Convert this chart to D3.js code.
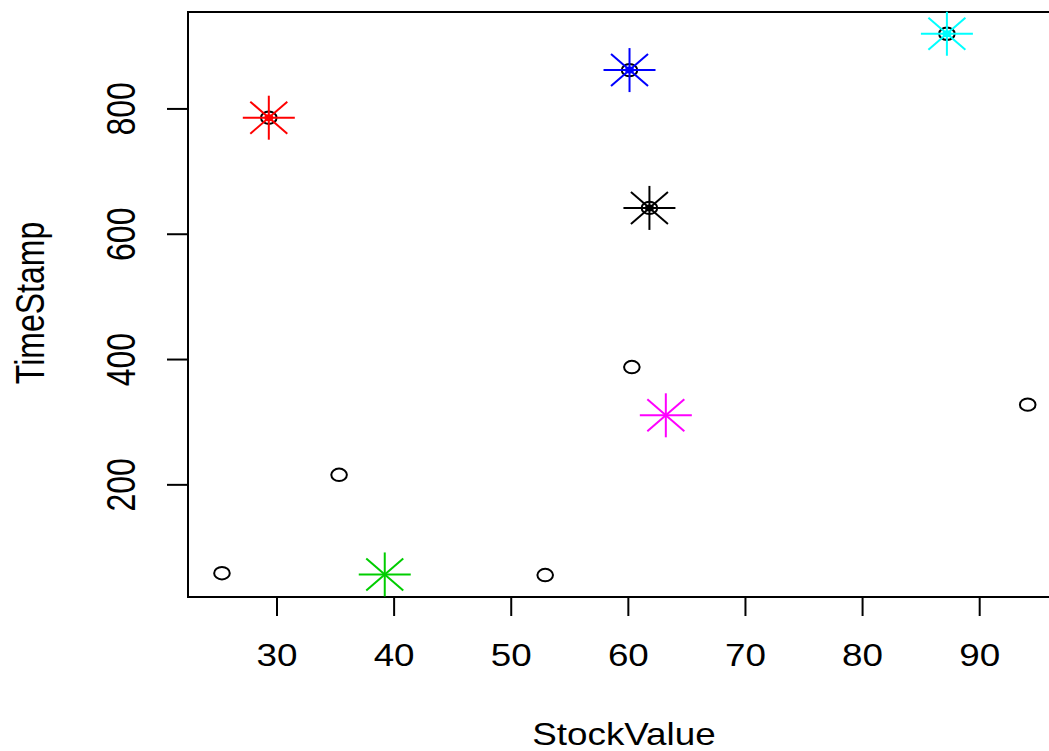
<!DOCTYPE html>
<html>
<head>
<meta charset="utf-8">
<script src="https://cdn.jsdelivr.net/npm/d3@7"></script>
<style>
  body { margin: 0; background: #fff; }
  text { font-family: "Liberation Sans", Arial, sans-serif; fill: #000; }
</style>
</head>
<body>
<svg id="chart" width="1049" height="751"></svg>
<script>
// points (open circles)
var stockValue = [25.3, 35.3, 52.9, 60.3, 94.1, 29.3, 60.1, 61.8, 87.2];
var timeStamp  = [59, 216, 56, 388, 328, 786, 862, 642, 920];

// highlighted points (stars)
var starValue = [29.3, 60.1, 61.8, 87.2, 39.2, 63.2];
var starTime  = [786, 862, 642, 920, 57, 311];
var starColor = ["#ff0000", "#0000ff", "#000000", "#00ffff", "#00cd00", "#ff00ff"];
var starOnPoint = [true, true, true, true, false, false];

var xTicks = [30, 40, 50, 60, 70, 80, 90];
var yTicks = [200, 400, 600, 800];

var svg = d3.select("#chart");
var sx = 1.15;  // horizontal text is stretched sideways a little
var sxr = 1.28; // rotated text more so

var x = d3.scaleLinear().domain([22.4, 100.7]).range([188, 1105]);
var y = d3.scaleLinear().domain([21, 954.7]).range([597, 12]);

// box
svg.append("rect")
  .attr("x", 188).attr("y", 12)
  .attr("width", 1105 - 188).attr("height", 597 - 12)
  .attr("fill", "none").attr("stroke", "#000").attr("stroke-width", 2);

// x axis
var xAxis = svg.append("g").attr("transform", "translate(0,597)");
xAxis.selectAll("line").data(xTicks).enter().append("line")
  .attr("x1", function(d) { return x(d); }).attr("x2", function(d) { return x(d); })
  .attr("y1", 0).attr("y2", 19)
  .attr("stroke", "#000").attr("stroke-width", 2);
xAxis.selectAll("text").data(xTicks).enter().append("text")
  .attr("transform", function(d) { return "translate(" + x(d) + ",69) scale(" + sx + ",1)"; })
  .attr("text-anchor", "middle")
  .style("font-size", "32px")
  .text(function(d) { return d; });

// y axis
var yAxis = svg.append("g").attr("transform", "translate(188,0)");
yAxis.selectAll("line").data(yTicks).enter().append("line")
  .attr("x1", 0).attr("x2", -21)
  .attr("y1", function(d) { return y(d); }).attr("y2", function(d) { return y(d); })
  .attr("stroke", "#000").attr("stroke-width", 2);
yAxis.selectAll("text").data(yTicks).enter().append("text")
  .attr("transform", function(d) { return "translate(-53," + y(d) + ") scale(" + sxr + ",1) rotate(-90)"; })
  .attr("text-anchor", "middle")
  .style("font-size", "32px")
  .text(function(d) { return d; });

// axis titles
svg.append("text")
  .attr("transform", "translate(624,745) scale(" + sx + ",1)")
  .attr("text-anchor", "middle")
  .style("font-size", "32px")
  .text("StockValue");
svg.append("text")
  .attr("transform", "translate(44,303) scale(" + sxr + ",1) rotate(-90)")
  .attr("text-anchor", "middle")
  .style("font-size", "32px")
  .text("TimeStamp");

var marks = svg.append("g");

// open circles
marks.selectAll("ellipse.pt").data(stockValue).enter().append("ellipse")
  .attr("class", "pt")
  .attr("cx", function(d) { return x(d); })
  .attr("cy", function(d, i) { return y(timeStamp[i]); })
  .attr("rx", 7.8).attr("ry", 6.2)
  .attr("fill", "none").attr("stroke", "#000").attr("stroke-width", 2);

// stars
var arms = [[26, 0], [0, 22], [18.5, 16], [18.5, -16]];
var stars = marks.selectAll("g.star").data(starValue).enter().append("g")
  .attr("class", "star")
  .attr("transform", function(d, i) { return "translate(" + x(d) + "," + y(starTime[i]) + ")"; });
stars.each(function(d, i) {
  var g = d3.select(this);
  arms.forEach(function(a) {
    g.append("line")
      .attr("x1", -a[0]).attr("y1", -a[1]).attr("x2", a[0]).attr("y2", a[1])
      .attr("stroke", starColor[i]).attr("stroke-width", 2);
  });
  g.append("ellipse")
    .attr("rx", starOnPoint[i] ? 4.5 : 2).attr("ry", starOnPoint[i] ? 3.5 : 1.6)
    .attr("fill", starColor[i]);
});
</script>
</body>
</html>
